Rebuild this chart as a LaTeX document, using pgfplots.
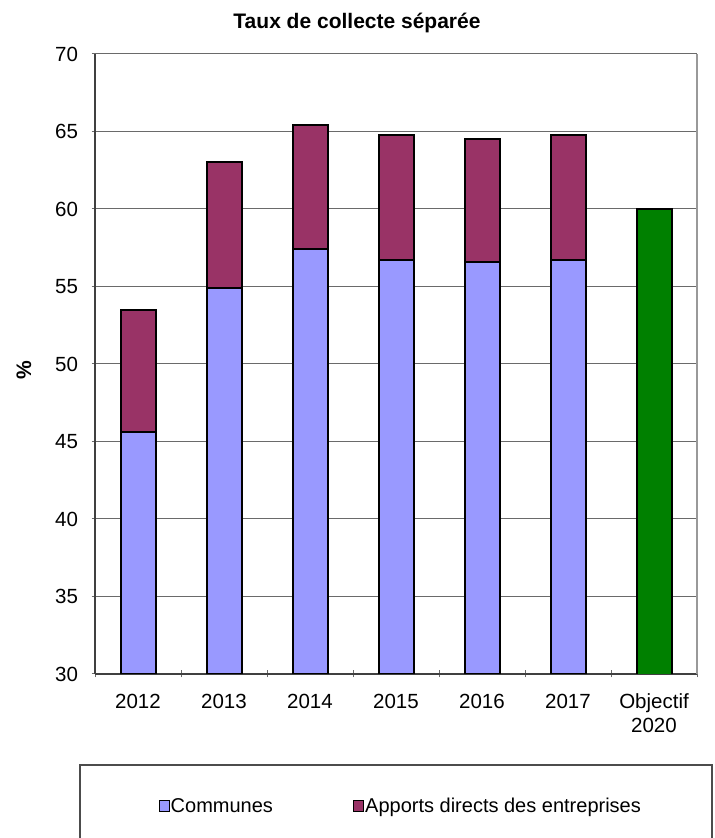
\documentclass[border=0pt]{standalone}
\usepackage{pgfplots}
\pgfplotsset{compat=1.18}
\usepackage{fontspec}
\setmainfont{Liberation Sans}
\definecolor{communes}{HTML}{9999FF}
\definecolor{apports}{HTML}{993366}
\definecolor{objectif}{HTML}{008000}
\definecolor{gridgray}{HTML}{6A6A6A}
\begin{document}
\begin{tikzpicture}
\useasboundingbox (0bp,0bp) rectangle (715bp,838bp);
\node[font=\fontsize{21bp}{23bp}\selectfont\bfseries] at (357bp,815bp) {Taux de collecte séparée};
\node[font=\fontsize{21bp}{23bp}\selectfont\bfseries, rotate=90] at (24bp,468bp) {\%};
\begin{axis}[
    at={(95bp,164bp)}, anchor=south west,
    scale only axis, width=602bp, height=620bp,
    ybar stacked, bar width=35bp,
    ymin=30, ymax=70, ytick={30,35,...,70},
    xmin=-0.5, xmax=6.5,
    xtick={0,...,6},
    xticklabels={2012,2013,2014,2015,2016,2017,{Objectif\\2020}},
    minor xtick={-0.5,0.5,...,6.5},
    major x tick style={draw=none},
    tick align=outside,
    major tick length=7bp, minor tick length=7bp,
    tick style={gridgray, line width=1bp},
    axis x line=bottom, axis y line=left,
    axis line style={-, black!75, line width=1.3bp},
    ymajorgrids, grid style={gridgray, line width=1bp},
    /pgf/number format/assume math mode=true,
    ticklabel style={font=\fontsize{20.5bp}{24bp}\selectfont},
    xticklabel style={align=center, yshift=-13bp},
    yticklabel style={xshift=-10bp},
    legend style={at={(axis description cs:0.507,-0.213)}, anchor=center,
        draw=none, fill=none, legend columns=2,
        font=\fontsize{20bp}{22bp}\selectfont,
        /tikz/every even column/.append style={column sep=79bp},
        nodes={inner xsep=1bp}},
    legend image code/.code={\draw[#1, line width=1.2bp, draw=black] (0bp,-5.5bp) rectangle (10bp,5.5bp);},
    after end axis/.code={\draw[black!40, line width=1.5bp] (rel axis cs:1,0) -- (rel axis cs:1,1);},
    bar style/.style={draw=black, line width=2bp},
]
\addplot[bar style, fill=communes] coordinates {(0,45.6) (1,54.9) (2,57.4) (3,56.7) (4,56.6) (5,56.7) (6,0)};
\addplot[bar style, fill=apports] coordinates {(0,7.9) (1,8.1) (2,8.0) (3,8.1) (4,7.9) (5,8.1) (6,0)};
\addplot[bar style, fill=objectif, forget plot] coordinates {(0,0) (1,0) (2,0) (3,0) (4,0) (5,0) (6,60)};
\legend{Communes, Apports directs des entreprises}
\end{axis}
\draw[black!70, line width=1.2bp] (80bp,-5bp) rectangle (712bp,73bp);
\end{tikzpicture}
\end{document}
